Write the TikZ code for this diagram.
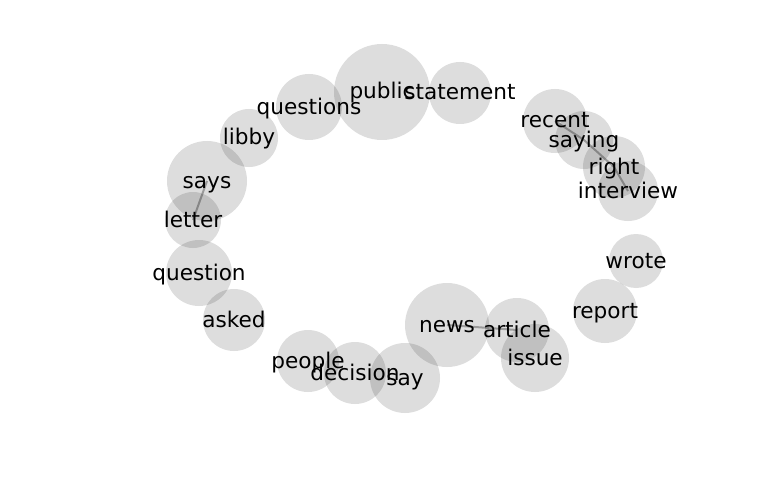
\documentclass[tikz,border=0pt]{standalone}
\usepackage{fontspec}
\setmainfont{DejaVu Sans}
\tikzset{
  bubble/.style={fill=black, fill opacity=0.135},
  link/.style={draw=black, opacity=0.3, line width=2pt},
  word/.style={inner sep=0pt, text height=19pt, text depth=5pt,
    font=\fontsize{21.6}{26}\selectfont}
}
\begin{document}
\begin{tikzpicture}[x=1pt, y=-1pt]
    \useasboundingbox (0,0) rectangle (768,500);
    % word bubbles: name / x / y / radius
    \foreach \name/\x/\y/\r in {public/382/92/48, statement/460/93/31,
        questions/309/107/33, libby/249/138/29, says/207/181/40,
        letter/193/220/28, question/199/273/33, asked/234/320/31,
        people/308/361/31, decision/355/373/31, say/405/378/35,
        news/447/325/42, article/517/330/32, issue/535/358/34,
        report/605/311/32, wrote/636/261/27, interview/628/191/30,
        right/614/167/31, saying/584/140/29, recent/555/121/32} {
      \coordinate (\name) at (\x,\y);
      \fill[bubble] (\name) circle (\r);
    }
    % links
    \draw[link] (says) -- (letter);
    \draw[link] (news) -- (article);
    \draw[link] (recent) -- (saying);
    \draw[link] (saying) -- (right);
    \draw[link] (right) -- (interview);
    % labels
    \foreach \name in {public, statement, questions, libby, says, letter,
        question, asked, people, decision, say, news, article, issue,
        report, wrote, interview, right, saying, recent}
      \node[word] (\name-lbl) at (\name) {\name};
\end{tikzpicture}
\end{document}
